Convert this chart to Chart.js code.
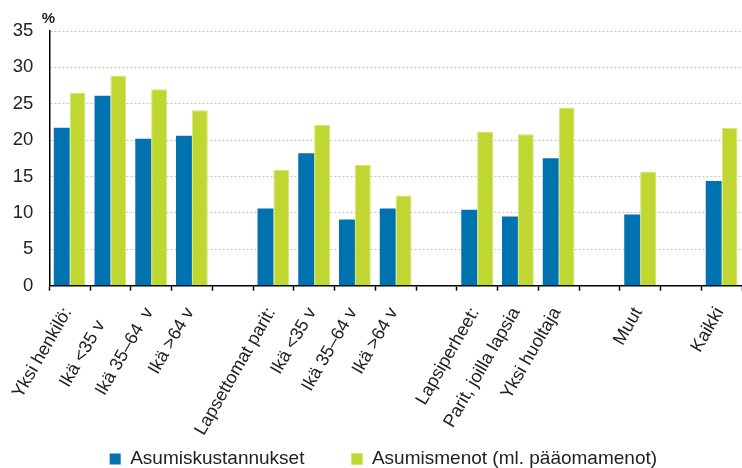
<!DOCTYPE html>
<html>
<head>
<meta charset="utf-8">
<script src="https://cdn.jsdelivr.net/npm/chart.js@4.4.1/dist/chart.umd.min.js"></script>
<style>
  html, body { margin: 0; padding: 0; background: #fff; }
  #wrap { width: 742px; height: 468px; position: relative; }
</style>
</head>
<body>
<div id="wrap"><canvas id="c"></canvas></div>
<script>
const categories = [
  "Yksi henkilö:", "Ikä <35 v   ", "Ikä 35–64  v", "Ikä >64 v", "",
  "Lapsettomat parit:", "Ikä <35 v", "Ikä 35–64 v", "Ikä >64 v", "",
  "Lapsiperheet:", "Parit, joilla lapsia", "Yksi huoltaja", "",
  "Muut", "", "Kaikki"
];
const asumiskustannukset = [21.7, 26.1, 20.2, 20.6, null, 10.6, 18.2, 9.1, 10.6, null, 10.45, 9.5, 17.5, null, 9.8, null, 14.4];
const asumismenot = [26.5, 28.9, 27.0, 24.1, null, 15.9, 22.1, 16.6, 12.4, null, 21.2, 20.8, 24.5, null, 15.7, null, 21.7];
const seriesNames = ["Asumiskustannukset", "Asumismenot (ml. pääomamenot)"];
const yTicks = [0, 5, 10, 15, 20, 25, 30, 35];
const unitLabel = "%";

const FONT = "'Liberation Sans', Arial, sans-serif";
const BLUE = "#0072B0";
const GREEN = "#C0D731";

const LEGEND_PAD = 47;
const LEGEND_FONT = 19;
const X_HEIGHT = 170;
const AREA_BOTTOM = 285.7;
const legendHeight = Math.max(LEGEND_FONT, 11) + LEGEND_PAD + 10;
const bottomPad = 468 - AREA_BOTTOM - X_HEIGHT - legendHeight;

const tweak = {
  id: "tweak",
  afterLayout(chart) {
    const lg = chart.legend;
    if (lg) {
      const pad = lg.options.labels.padding;
      const shiftX = 109.7 - pad - lg.left;
      lg.left += shiftX; lg.right += shiftX;
      const ih = Math.max(LEGEND_FONT, 11);
      const newTop = 459 - pad - ih / 2;
      const dy = newTop - lg.top;
      lg.top += dy; lg.bottom += dy;
    }
  },
  afterDraw(chart) {
    const ctx = chart.ctx;
    const a = chart.chartArea;
    ctx.save();
    ctx.font = "bold 15px " + FONT;
    ctx.fillStyle = "#222";
    ctx.textAlign = "center";
    ctx.textBaseline = "middle";
    ctx.fillText(unitLabel, a.left - 1, a.top - 12);
    ctx.restore();
  }
};

new Chart(document.getElementById("c"), {
  type: "bar",
  data: {
    labels: categories,
    datasets: [
      { label: seriesNames[0], data: asumiskustannukset, backgroundColor: BLUE, borderWidth: 0,
        categoryPercentage: 0.78, barPercentage: 1.0 },
      { label: seriesNames[1], data: asumismenot, backgroundColor: GREEN, borderColor: "#D5E57A",
        borderWidth: 1, categoryPercentage: 0.78, barPercentage: 1.0 }
    ]
  },
  options: {
    responsive: true,
    maintainAspectRatio: false,
    animation: false,
    devicePixelRatio: 1,
    layout: { padding: { top: 31, right: -2.3, left: 0, bottom: bottomPad } },
    plugins: {
      legend: {
        position: "bottom",
        align: "start",
        labels: {
          boxWidth: 11, boxHeight: 11, padding: LEGEND_PAD,
          color: "#222",
          font: { family: FONT, size: LEGEND_FONT }
        }
      },
      tooltip: { enabled: false },
      title: { display: false }
    },
    scales: {
      x: {
        offset: true,
        grid: { display: true, drawOnChartArea: false, drawTicks: true, tickLength: 5,
                tickColor: "#000", tickWidth: 1.5, offset: true },
        border: { display: true, color: "#000", width: 1.5 },
        ticks: {
          autoSkip: false, minRotation: 60, maxRotation: 60,
          padding: 13, labelOffset: -2,
          color: "#222",
          font: { family: FONT, size: 18 }
        },
        afterFit(scale) {
          scale.height = X_HEIGHT;
          scale.paddingLeft = 0;
          scale.paddingRight = 0;
        }
      },
      y: {
        min: 0, max: 35,
        afterBuildTicks(scale) { scale.ticks = yTicks.map(v => ({ value: v })); },
        grid: { color: "#c4c4c4", lineWidth: 1, drawTicks: false },
        border: { display: true, color: "#000", width: 1.5, dash: [2, 2] },
        ticks: {
          padding: 16, color: "#222",
          font: { family: FONT, size: 18.5 }
        },
        afterFit(scale) { scale.width = 49.3; }
      }
    }
  },
  plugins: [tweak]
});
</script>
</body>
</html>
